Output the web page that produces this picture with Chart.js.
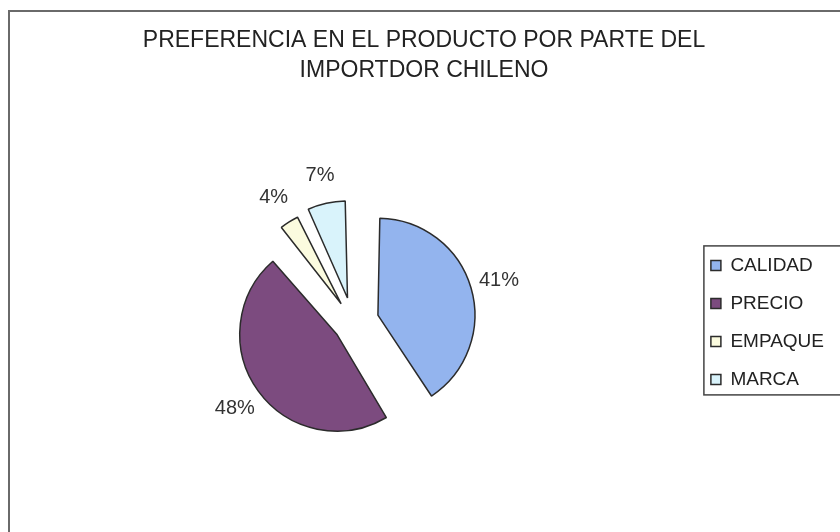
<!DOCTYPE html>
<html>
<head>
<meta charset="utf-8">
<script src="https://cdn.jsdelivr.net/npm/chart.js@4.4.0/dist/chart.umd.min.js"></script>
<style>
  html, body { margin: 0; padding: 0; background: #fff; }
  canvas { display: block; }
</style>
</head>
<body>
<canvas id="grafico" width="840" height="532"></canvas>
<script>
// datos
const categorias = ["CALIDAD", "PRECIO", "EMPAQUE", "MARCA"];
const porcentajes = [41, 48, 4, 7];
const titulo = ["PREFERENCIA EN EL PRODUCTO POR PARTE DEL", "IMPORTDOR CHILENO"];

// estilo
const colores = ["#93b4ee", "#7c4b7f", "#fbfbdf", "#d9f3fb"];
const separacion = [26, 20, 22, 25]; // px que se separa cada porcion
const RADIO = 97;
const FUENTE = "'Liberation Sans', Arial, sans-serif";

// Chart.js agranda el radio de las porciones separadas; lo compensamos
const ajusteRadio = {
  id: "ajusteRadio",
  afterDatasetUpdate(chart, args) {
    args.meta.data.forEach((arc, i) => {
      const circ = arc.endAngle - arc.startAngle;
      const fix = 1 - Math.sin(Math.min(Math.PI, circ));
      arc.outerRadius = RADIO - separacion[i] * fix;
    });
  }
};

// porcentajes fuera de cada porcion
const etiquetas = {
  id: "etiquetas",
  afterDatasetsDraw(chart) {
    const ctx = chart.ctx;
    const meta = chart.getDatasetMeta(0);
    ctx.save();
    ctx.font = "20px " + FUENTE;
    ctx.fillStyle = "#333";
    ctx.textAlign = "center";
    ctx.textBaseline = "middle";
    meta.data.forEach((arc, i) => {
      const mid = (arc.startAngle + arc.endAngle) / 2;
      const d = separacion[i] + RADIO + 29;
      ctx.fillText(porcentajes[i] + "%", arc.x + Math.cos(mid) * d, arc.y + Math.sin(mid) * d);
    });
    ctx.restore();
  }
};

// marco del grafico y recuadro de la leyenda
const marcos = {
  id: "marcos",
  beforeDraw(chart) {
    const ctx = chart.ctx;
    ctx.save();
    ctx.fillStyle = "#fff";
    ctx.fillRect(0, 0, chart.width, chart.height);
    ctx.strokeStyle = "#6a6a6a";
    ctx.lineWidth = 2;
    ctx.strokeRect(9, 11, chart.width + 10, chart.height + 10);
    ctx.restore();
  },
  afterDraw(chart) {
    const cajas = chart.legend.legendHitBoxes;
    if (!cajas || !cajas.length) return;
    const izq = Math.min(...cajas.map(c => c.left));
    const arriba = Math.min(...cajas.map(c => c.top));
    const abajo = Math.max(...cajas.map(c => c.top + c.height));
    const ctx = chart.ctx;
    ctx.save();
    ctx.strokeStyle = "#444";
    ctx.lineWidth = 1.5;
    ctx.strokeRect(izq - 7, arriba - 10, chart.width, abajo - arriba + 16);
    ctx.restore();
  }
};

new Chart(document.getElementById("grafico").getContext("2d"), {
  type: "pie",
  data: {
    labels: categorias,
    datasets: [{
      data: porcentajes,
      backgroundColor: colores,
      borderColor: "#2b2b2b",
      borderWidth: 1.5,
      offset: separacion.map(s => s * 4),
      radius: RADIO
    }]
  },
  options: {
    responsive: false,
    animation: false,
    layout: { padding: { left: 14, right: 6, top: 0, bottom: 7 } },
    plugins: {
      title: {
        display: true,
        text: titulo,
        color: "#222",
        font: { family: FUENTE, size: 23, weight: "normal", lineHeight: 1.3 },
        padding: { top: 26, bottom: 34 }
      },
      legend: {
        position: "right",
        fullSize: false,
        labels: {
          color: "#222",
          font: { family: FUENTE, size: 19 },
          boxWidth: 10,
          boxHeight: 10,
          padding: 19
        }
      },
      tooltip: { enabled: false }
    }
  },
  plugins: [ajusteRadio, etiquetas, marcos]
});
</script>
</body>
</html>
